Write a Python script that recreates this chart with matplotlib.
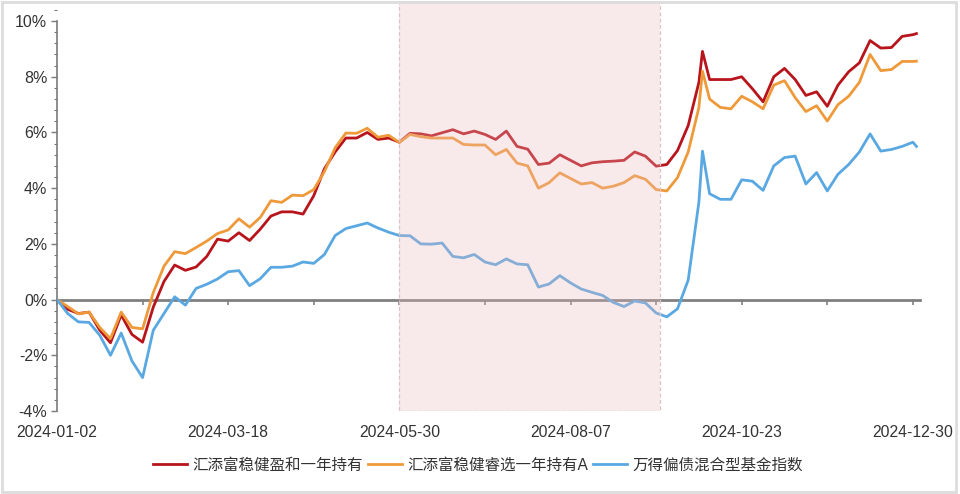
import matplotlib
matplotlib.use('Agg')
import matplotlib.pyplot as plt
from matplotlib.ticker import MultipleLocator, FuncFormatter
from matplotlib.patches import Rectangle

plt.rcParams['font.family'] = ['Liberation Sans', 'Noto Sans CJK SC']

# trading-day index of each sampled point (2024)
days = list(range(0, 181, 3)) + [181] + list(range(183, 241, 3)) + [241]

# cumulative return, %
fund_a = [
    0, -0.35, -0.5, -0.45, -1.1, -1.55, -0.55, -1.25, -1.53, -0.27, 0.65,
    1.24, 1.05, 1.17, 1.55, 2.17, 2.1, 2.4, 2.12, 2.53, 3.0,
    3.15, 3.15, 3.07, 3.73, 4.7, 5.3, 5.8, 5.8, 6.0, 5.75,
    5.8, 5.65, 5.97, 5.95, 5.88, 5.99, 6.1, 5.95, 6.05, 5.93,
    5.75, 6.05, 5.5, 5.4, 4.85, 4.9, 5.2, 5.0, 4.8, 4.91,
    4.95, 4.97, 5.0, 5.3, 5.15, 4.79, 4.85, 5.35, 6.25, 7.8,
    8.91,
    7.9, 7.9, 7.9, 8.0, 7.57, 7.1, 8.0, 8.3, 7.9, 7.33,
    7.46, 6.94, 7.7, 8.18, 8.5, 9.3, 9.03, 9.05, 9.45, 9.51,
    9.55,
]
fund_b = [
    0, -0.25, -0.51, -0.45, -1.0, -1.4, -0.45, -1.0, -1.05, 0.25, 1.2,
    1.72, 1.65, 1.87, 2.1, 2.37, 2.5, 2.9, 2.6, 2.95, 3.55,
    3.49, 3.75, 3.73, 3.95, 4.6, 5.45, 5.98, 5.97, 6.15, 5.83,
    5.9, 5.64, 5.93, 5.85, 5.8, 5.8, 5.8, 5.57, 5.55, 5.55,
    5.2, 5.39, 4.9, 4.8, 4.0, 4.2, 4.55, 4.35, 4.15, 4.2,
    4.0, 4.07, 4.2, 4.45, 4.32, 3.95, 3.9, 4.38, 5.3, 6.9,
    8.2,
    7.2, 6.9, 6.85, 7.3, 7.1, 6.85, 7.7, 7.86, 7.25, 6.75,
    6.96, 6.41, 7.0, 7.3, 7.8, 8.8, 8.22, 8.26, 8.55, 8.55,
    8.56,
]
index_c = [
    0, -0.5, -0.8, -0.82, -1.28, -2.0, -1.2, -2.2, -2.8, -1.1, -0.5,
    0.1, -0.2, 0.4, 0.55, 0.74, 1.0, 1.04, 0.5, 0.75, 1.16,
    1.16, 1.2, 1.35, 1.3, 1.62, 2.3, 2.55, 2.65, 2.75, 2.57,
    2.42, 2.3, 2.29, 2.0, 1.99, 2.03, 1.55, 1.5, 1.62, 1.35,
    1.25, 1.46, 1.28, 1.25, 0.45, 0.56, 0.86, 0.6, 0.38, 0.26,
    0.15, -0.1, -0.25, -0.05, -0.12, -0.48, -0.62, -0.33, 0.7, 3.5,
    5.33,
    3.8, 3.6, 3.6, 4.3, 4.25, 3.92, 4.8, 5.1, 5.15, 4.15,
    4.56, 3.9, 4.5, 4.85, 5.3, 5.95, 5.33, 5.39, 5.5, 5.65,
    5.5,
]

names = ['汇添富稳健盈和一年持有', '汇添富稳健睿选一年持有A', '万得偏债混合型基金指数']
colors = ['#b8141c', '#ef9a3a', '#5aa8e2']

tick_days = [0, 48, 96, 144, 192, 240]
tick_labels = ['2024-01-02', '2024-03-18', '2024-05-30', '2024-08-07', '2024-10-23', '2024-12-30']
shade_start, shade_end = 96, 169

fig = plt.figure(figsize=(9.6, 4.94), dpi=100)
ax = fig.add_axes([57 / 960, 1 - 411 / 494, 863 / 960, 410 / 494])

for series, name, c in zip([fund_a, fund_b, index_c], names, colors):
    ax.plot(days, series, color=c, lw=2.0, label=name, zorder=3)

ax.axvspan(shade_start, shade_end, facecolor=(235 / 255, 185 / 255, 188 / 255), alpha=0.3,
           edgecolor='none', zorder=4)
ax.axvspan(shade_start, shade_end, facecolor='none', edgecolor='#d8c4c6', lw=0.9,
           ls=(0, (3, 2)), zorder=4)

ax.set_xlim(0, 242)
ax.set_ylim(-4, 10.72)

for s in ['top', 'right']:
    ax.spines[s].set_visible(False)
ax.spines['left'].set_bounds(-4, 10)
ax.spines['left'].set_color('#7a7a7a')
ax.spines['left'].set_linewidth(1.2)
ax.spines['bottom'].set_position(('data', 0))
ax.spines['bottom'].set_color('#808080')
ax.spines['bottom'].set_linewidth(2)
ax.spines['bottom'].set_zorder(2)

ax.set_yticks(range(-4, 11, 2))
ax.yaxis.set_minor_locator(MultipleLocator(0.4))
ax.yaxis.set_major_formatter(FuncFormatter(lambda v, p: f'{v:.0f}%'))
ax.tick_params(axis='y', which='major', length=4, width=1, color='#7a7a7a',
               labelsize=11.5, labelcolor='#333333', pad=3)
ax.tick_params(axis='y', which='minor', length=2.5, width=0.8, color='#7a7a7a')

ax.set_xticks(range(0, 241, 24))
ax.set_xticklabels([])
ax.tick_params(axis='x', length=3.5, width=1.2, color='#808080')
for d, lbl in zip(tick_days, tick_labels):
    ax.text(d, -0.052, lbl, transform=ax.get_xaxis_transform(), ha='center', va='center',
            fontsize=11.3, color='#333333')

fig.legend(loc='center', bbox_to_anchor=(478 / 960, 1 - 465 / 494), ncol=3, frameon=False,
           fontsize=11.2, handlelength=2.2, handletextpad=0.35, columnspacing=0.3,
           labelcolor='#333333')

fig.patches.append(Rectangle((0.002, 0.004), 0.994, 0.992, transform=fig.transFigure,
                             fill=False, edgecolor='#dddddd', lw=2))

fig.savefig('out.png', dpi=100)
